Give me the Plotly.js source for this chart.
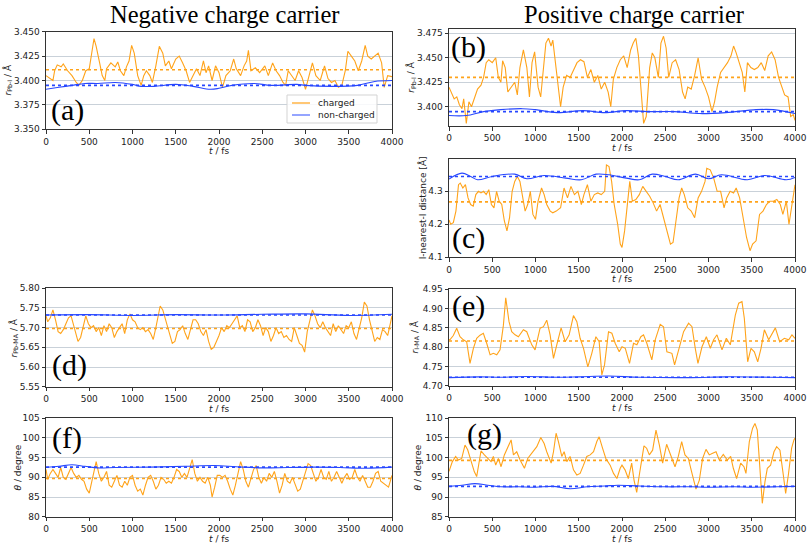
<!DOCTYPE html>
<html><head><meta charset="utf-8">
<script src="https://cdn.plot.ly/plotly-3.0.1.min.js"></script>
<style>html,body{margin:0;padding:0;background:#fff}#chart{width:807px;height:544px}</style>
</head><body><div id="chart"></div>
<script>
// ---------- (a) negative carrier, r(Pb-I) ----------
const tChargedA = [0,50,80,100,130,175,200,250,300,350,380,420,460,500,530,555,580,600,620,650,680,700,750,800,830,860,900,930,960,990,1020,1060,1100,1130,1160,1200,1230,1270,1310,1350,1380,1420,1450,1500,1540,1580,1620,1660,1700,1740,1780,1820,1850,1880,1920,1960,2000,2040,2080,2130,2170,2200,2250,2290,2320,2340,2370,2420,2470,2530,2570,2620,2660,2700,2740,2770,2800,2840,2880,2920,2960,3000,3040,3080,3120,3170,3220,3260,3300,3340,3380,3420,3460,3490,3530,3570,3610,3650,3690,3720,3760,3800,3840,3880,3910,3950,4000];
const chargedA = [3.405,3.402,3.400,3.410,3.416,3.414,3.417,3.410,3.405,3.398,3.395,3.400,3.410,3.412,3.430,3.443,3.435,3.425,3.418,3.405,3.400,3.412,3.418,3.414,3.419,3.410,3.405,3.414,3.420,3.436,3.428,3.405,3.395,3.405,3.410,3.405,3.398,3.415,3.435,3.428,3.415,3.420,3.412,3.422,3.425,3.418,3.410,3.398,3.405,3.412,3.405,3.420,3.408,3.415,3.400,3.415,3.408,3.393,3.405,3.410,3.422,3.412,3.405,3.415,3.420,3.431,3.410,3.413,3.408,3.415,3.405,3.418,3.410,3.405,3.398,3.395,3.410,3.405,3.400,3.410,3.403,3.391,3.405,3.418,3.405,3.400,3.415,3.402,3.398,3.400,3.393,3.395,3.410,3.430,3.425,3.420,3.410,3.420,3.436,3.425,3.422,3.425,3.428,3.418,3.393,3.405,3.404];
const tNonA = [0,150,300,450,600,800,1000,1100,1250,1500,1700,1900,2000,2150,2400,2600,2900,3000,3300,3600,3800,4000];
const nonChargedA = [3.391,3.393,3.395,3.397,3.397,3.398,3.396,3.394,3.394,3.396,3.394,3.391,3.392,3.395,3.397,3.395,3.396,3.395,3.394,3.395,3.399,3.400];
const meansA = [3.411, 3.395];

// ---------- (b) positive carrier, r(Pb-I) ----------
const tChargedB = [0,30,60,90,120,150,170,200,230,260,300,330,370,400,430,460,500,540,570,600,620,650,680,720,760,790,820,860,900,930,960,990,1030,1060,1090,1120,1150,1180,1200,1230,1260,1290,1320,1360,1400,1440,1480,1520,1560,1600,1640,1680,1720,1760,1800,1840,1870,1900,1940,1980,2020,2060,2100,2130,2160,2190,2220,2250,2280,2320,2350,2380,2420,2450,2480,2510,2540,2580,2620,2660,2700,2730,2760,2800,2840,2880,2920,2960,3000,3040,3070,3100,3140,3180,3220,3260,3290,3320,3360,3390,3420,3450,3490,3530,3570,3610,3650,3690,3730,3770,3810,3850,3880,3920,3950,3980,4000];
const chargedB = [3.420,3.413,3.408,3.410,3.402,3.398,3.408,3.383,3.405,3.400,3.410,3.418,3.422,3.430,3.445,3.448,3.445,3.450,3.430,3.425,3.447,3.440,3.415,3.420,3.425,3.412,3.440,3.458,3.440,3.410,3.445,3.456,3.420,3.410,3.440,3.465,3.470,3.462,3.468,3.445,3.420,3.400,3.420,3.432,3.430,3.438,3.445,3.448,3.446,3.430,3.438,3.425,3.432,3.418,3.425,3.415,3.400,3.428,3.440,3.448,3.452,3.440,3.458,3.465,3.470,3.452,3.412,3.383,3.390,3.440,3.455,3.450,3.430,3.465,3.472,3.460,3.430,3.445,3.448,3.438,3.415,3.408,3.420,3.418,3.432,3.450,3.428,3.420,3.410,3.395,3.405,3.420,3.435,3.440,3.445,3.452,3.462,3.455,3.442,3.435,3.415,3.445,3.440,3.438,3.440,3.445,3.437,3.452,3.456,3.448,3.430,3.420,3.412,3.410,3.390,3.392,3.386];
const tNonB = [0,200,400,600,850,1000,1250,1550,1800,2050,2300,2600,2900,3200,3550,3750,4000];
const nonChargedB = [3.391,3.391,3.395,3.397,3.398,3.397,3.394,3.396,3.394,3.396,3.395,3.395,3.393,3.394,3.397,3.397,3.393];
const meansB = [3.430, 3.395];

// ---------- (c) positive carrier, I-nearest-I distance ----------
const tChargedC = [0,20,50,80,110,130,160,190,220,250,280,310,340,370,400,430,460,490,520,550,580,610,640,670,700,730,760,790,820,850,880,910,940,970,1000,1030,1070,1100,1130,1170,1200,1240,1290,1330,1370,1410,1450,1490,1530,1560,1600,1640,1680,1720,1760,1800,1820,1850,1880,1910,1950,1980,2000,2030,2060,2090,2120,2160,2200,2240,2280,2320,2360,2400,2440,2480,2520,2560,2590,2620,2660,2690,2720,2760,2800,2840,2880,2920,2960,2980,3020,3060,3100,3140,3180,3210,3250,3290,3320,3360,3400,3440,3480,3510,3550,3590,3630,3670,3710,3750,3790,3830,3860,3900,3930,3960,4000];
const chargedC = [4.213,4.20,4.205,4.24,4.32,4.325,4.31,4.32,4.28,4.26,4.255,4.29,4.30,4.295,4.30,4.29,4.305,4.26,4.25,4.30,4.27,4.26,4.21,4.18,4.22,4.30,4.33,4.345,4.33,4.28,4.24,4.26,4.30,4.23,4.215,4.27,4.31,4.29,4.26,4.24,4.235,4.24,4.25,4.31,4.28,4.315,4.29,4.30,4.26,4.29,4.32,4.27,4.29,4.295,4.29,4.30,4.38,4.375,4.33,4.26,4.20,4.14,4.13,4.18,4.26,4.33,4.27,4.275,4.29,4.315,4.30,4.285,4.265,4.24,4.26,4.22,4.18,4.14,4.145,4.20,4.28,4.31,4.29,4.25,4.24,4.22,4.28,4.30,4.33,4.37,4.365,4.34,4.30,4.30,4.25,4.28,4.30,4.295,4.31,4.28,4.22,4.16,4.12,4.14,4.15,4.23,4.24,4.26,4.27,4.27,4.275,4.26,4.23,4.27,4.20,4.25,4.32];
const tNonC = [0,150,250,330,500,760,900,1100,1350,1530,1700,1850,2050,2200,2350,2500,2650,2850,3000,3150,3450,3650,3900,4000];
const nonChargedC = [4.337,4.355,4.345,4.335,4.345,4.352,4.338,4.348,4.340,4.335,4.352,4.350,4.340,4.335,4.352,4.345,4.335,4.352,4.338,4.350,4.335,4.348,4.335,4.342];
const meansC = [4.268, 4.345];

// ---------- (d) negative carrier, r(Pb-MA) ----------
const tChargedD = [0,20,50,80,110,140,170,200,230,260,290,320,350,370,400,430,460,490,520,550,580,610,640,670,700,730,760,790,820,850,880,910,940,970,1000,1030,1060,1090,1120,1150,1180,1210,1240,1270,1300,1320,1350,1380,1410,1440,1460,1490,1520,1550,1580,1610,1640,1670,1700,1730,1760,1790,1820,1850,1880,1910,1940,1970,2000,2030,2060,2090,2120,2150,2180,2210,2240,2270,2300,2330,2360,2390,2420,2450,2480,2510,2540,2570,2600,2630,2660,2690,2720,2750,2780,2810,2840,2870,2900,2930,2960,2990,3020,3050,3080,3110,3140,3170,3200,3230,3260,3290,3320,3350,3380,3410,3440,3470,3500,3530,3560,3590,3620,3650,3680,3710,3740,3770,3800,3830,3860,3890,3920,3950,3980,4000];
const chargedD = [5.73,5.715,5.725,5.745,5.72,5.69,5.685,5.695,5.71,5.725,5.73,5.705,5.68,5.665,5.675,5.70,5.73,5.71,5.70,5.705,5.69,5.70,5.68,5.705,5.69,5.71,5.70,5.675,5.69,5.70,5.71,5.685,5.72,5.735,5.72,5.715,5.70,5.695,5.70,5.69,5.695,5.685,5.67,5.70,5.74,5.755,5.745,5.72,5.695,5.675,5.66,5.665,5.69,5.695,5.705,5.685,5.67,5.695,5.72,5.72,5.71,5.69,5.68,5.695,5.665,5.645,5.65,5.665,5.68,5.70,5.69,5.705,5.70,5.71,5.72,5.73,5.70,5.705,5.69,5.72,5.715,5.69,5.70,5.72,5.705,5.68,5.70,5.69,5.665,5.68,5.70,5.685,5.69,5.675,5.68,5.67,5.665,5.70,5.68,5.66,5.655,5.638,5.69,5.72,5.745,5.73,5.71,5.70,5.715,5.70,5.69,5.68,5.71,5.69,5.705,5.695,5.685,5.705,5.70,5.715,5.685,5.67,5.70,5.725,5.765,5.755,5.72,5.695,5.665,5.675,5.67,5.695,5.69,5.68,5.71,5.73];
const tNonD = [0,500,1000,1500,2000,2500,3000,3500,4000];
const nonChargedD = [5.732,5.733,5.731,5.733,5.732,5.734,5.735,5.731,5.734];
const meansD = [5.698, 5.732];

// ---------- (e) positive carrier, r(I-MA) ----------
const tChargedE = [0,10,50,89,127,166,204,243,282,320,359,397,436,475,513,552,590,629,656,694,725,764,802,860,899,957,995,1053,1092,1130,1169,1208,1246,1296,1343,1389,1439,1478,1516,1555,1605,1651,1698,1736,1767,1798,1844,1883,1921,1968,2000,2038,2087,2133,2172,2218,2249,2287,2345,2384,2442,2480,2519,2577,2608,2654,2712,2770,2809,2847,2878,2925,2975,3021,3059,3098,3156,3206,3252,3310,3349,3387,3414,3453,3491,3530,3569,3607,3646,3696,3734,3773,3823,3877,3927,3965,4000];
const chargedE = [4.82,4.819,4.83,4.849,4.827,4.819,4.814,4.758,4.797,4.823,4.831,4.836,4.81,4.78,4.784,4.78,4.793,4.857,4.928,4.866,4.84,4.832,4.827,4.845,4.84,4.806,4.793,4.849,4.853,4.87,4.832,4.771,4.806,4.85,4.814,4.832,4.882,4.866,4.823,4.797,4.749,4.784,4.827,4.814,4.728,4.754,4.84,4.836,4.81,4.788,4.801,4.797,4.758,4.81,4.806,4.827,4.832,4.81,4.767,4.819,4.859,4.853,4.788,4.784,4.754,4.793,4.84,4.862,4.853,4.797,4.758,4.801,4.827,4.797,4.819,4.832,4.793,4.823,4.806,4.883,4.914,4.918,4.875,4.762,4.797,4.788,4.762,4.797,4.845,4.819,4.836,4.85,4.814,4.823,4.819,4.832,4.823];
const tNonE = [0,350,600,900,1250,1500,1850,2200,2800,3200,3700,4000];
const nonChargedE = [4.721,4.723,4.722,4.724,4.722,4.723,4.725,4.722,4.721,4.723,4.722,4.721];
const meansE = [4.816, 4.722];

// ---------- (f) negative carrier, angle ----------
const tChargedF = [0,20,50,80,110,140,170,200,230,260,290,320,350,380,410,440,470,500,530,560,580,610,640,670,700,730,760,790,820,850,880,910,940,970,1000,1030,1060,1090,1120,1150,1180,1210,1240,1270,1300,1330,1360,1390,1420,1450,1480,1510,1540,1570,1600,1630,1660,1690,1720,1750,1780,1810,1840,1870,1900,1920,1950,1980,2010,2040,2070,2100,2130,2160,2190,2220,2250,2280,2310,2340,2370,2400,2430,2460,2490,2520,2550,2580,2610,2640,2670,2700,2730,2760,2790,2820,2850,2880,2910,2940,2970,3000,3030,3060,3090,3120,3150,3180,3210,3240,3270,3300,3330,3360,3390,3420,3450,3480,3510,3540,3570,3600,3630,3660,3690,3720,3750,3780,3810,3840,3870,3900,3930,3960,4000];
const chargedF = [92,89.5,91,92,91,90,92.5,90,89.5,91,92.5,91,90,90.5,89.5,89,87,86,89,92,94,91,89,90,91.5,88,87.5,89,90.5,88,87.5,89,88,90,90.5,88,86.5,87,85.5,88,90,90.5,89,87,88,90,89.5,88.5,89,88.5,90,92,91.5,90,91,90,92,94.5,91,89,90,89,88.5,90,88,85,87.5,90.5,90.5,90,90.5,89,87,85.5,88,91,94,92,89,87.5,90,92,93,90,88.5,90,89,91,90,91.5,89,86,88,91,89,88.5,90,88,86.5,87,89,91,93.5,93,91,89,90,92,90,89.5,91.5,89,90,91.5,90,88.5,90,91,89.5,90,92,90,89,90.5,89,87.5,87.5,89,91,91.5,89,88.5,88,87.5,90.5];
const tNonF = [0,150,300,450,600,800,1200,1600,1950,2200,2500,2800,3100,3400,3700,4000];
const nonChargedF = [92.5,92.8,93.2,92.8,92.4,92.5,92.6,92.8,93.0,92.7,92.4,92.5,92.6,92.5,92.3,92.6];
const meansF = [89.7, 92.6];

// ---------- (g) positive carrier, angle ----------
const tChargedG = [0,12,39,77,108,147,185,216,255,293,320,347,370,409,448,486,513,540,571,602,640,679,718,745,783,822,872,910,957,1015,1061,1100,1130,1181,1208,1238,1265,1304,1331,1362,1400,1439,1478,1516,1555,1593,1632,1671,1709,1736,1775,1813,1863,1902,1941,1979,2000,2035,2073,2112,2139,2170,2200,2227,2254,2285,2316,2354,2393,2432,2470,2516,2555,2613,2651,2690,2728,2767,2805,2855,2894,2932,2971,3009,3048,3087,3125,3171,3218,3256,3287,3325,3372,3410,3433,3472,3510,3537,3564,3595,3622,3653,3680,3718,3757,3788,3826,3865,3892,3923,3961,3988,4000];
const chargedG = [96.5,97.3,99,100.3,99.4,99.8,103.2,102,99,96.4,95.2,99,101.7,100.7,99.8,99,100.3,98.1,99.8,97.7,100.7,102.4,104.5,100.7,101.5,99.4,97.3,99.8,101.1,102.8,105.1,103.6,101.5,98.6,101.5,106.2,104.1,100.3,101.5,99,100.3,96.9,95.6,96,98.1,100.3,100.7,101.5,104.1,105.3,102.4,99.8,98.1,96,94.7,97.3,98.1,96.9,94.7,98.6,94.3,91.2,95.6,99,103,102.4,100.7,101.9,107,103.2,98.6,103.4,101.1,97.7,100.3,104.1,100.7,99.8,96.4,92,94.3,99.8,102.1,100.7,101.1,101.5,99.4,100.8,99.4,100.3,97.3,94.7,98.6,97.7,96,104.1,107.5,108.7,107,98.1,88.4,93.9,97.3,98.1,101.5,102.8,101.9,95.6,90.9,95.6,102.4,104.5,105];
const tNonG = [0,150,300,450,600,800,1000,1200,1400,1600,1800,1950,2200,2500,2800,3000,3300,3500,3800,4000];
const nonChargedG = [92.7,93.0,93.4,93.0,92.6,92.6,92.5,92.7,92.1,92.6,92.8,93.0,92.8,92.6,92.6,92.5,92.6,92.5,92.6,92.7];
const meansG = [99.3, 92.7];

// ---------- texts ----------
const columnTitles = ['Negative charge carrier', 'Positive charge carrier'];
const panelLabels = ['(a)','(b)','(c)','(d)','(e)','(f)','(g)'];
const yTitles = ['<i>r</i><sub>Pb-I</sub> / Å','<i>r</i><sub>Pb-I</sub> / Å','I-nearest-I distance [Å]','<i>r</i><sub>Pb-MA</sub> / Å','<i>r</i><sub>I-MA</sub> / Å','<i>θ</i> / degree','<i>θ</i> / degree'];
const xTitle = '<i>t</i> / fs';
const seriesNames = ['charged','non-charged'];

// ---------- layout geometry (pixels) ----------
const W = 807, H = 544;
const colX = [[46,392],[449,795]];
const panelsGeom = [
  {col:0, top:31.7, bot:129.3, range:[3.35,3.45], dtick:0.025, fmt:'.3f', lab:[67,110], yt:8},
  {col:1, top:29.3, bot:126.0, range:[3.3803,3.4791], dtick:0.025, fmt:'.3f', lab:[468,47], yt:411},
  {col:1, top:159.3, bot:257.3, range:[4.1,4.397], dtick:0.1, fmt:'.1f', lab:[468,238], yt:422},
  {col:0, top:288.3, bot:386.7, range:[5.55,5.80], dtick:0.05, fmt:'.2f', lab:[69,365], yt:13},
  {col:1, top:289.3, bot:385.7, range:[4.70,4.95], dtick:0.05, fmt:'.2f', lab:[468,306], yt:414},
  {col:0, top:418.3, bot:516.7, range:[80,105], dtick:5, fmt:'d', lab:[67,438], yt:17},
  {col:1, top:418.3, bot:516.7, range:[85,110], dtick:5, fmt:'d', lab:[484,434], yt:417}
];
const data = [
  [tChargedA, chargedA, tNonA, nonChargedA, meansA],
  [tChargedB, chargedB, tNonB, nonChargedB, meansB],
  [tChargedC, chargedC, tNonC, nonChargedC, meansC],
  [tChargedD, chargedD, tNonD, nonChargedD, meansD],
  [tChargedE, chargedE, tNonE, nonChargedE, meansE],
  [tChargedF, chargedF, tNonF, nonChargedF, meansF],
  [tChargedG, chargedG, tNonG, nonChargedG, meansG]
];

const ORANGE = '#ffa31a', BLUE = '#2747ff';
const tickFont = {family:'DejaVu Sans, sans-serif', size:9, color:'#222'};
const traces = [];
const layout = {
  width: W, height: H, margin:{l:0,r:0,t:0,b:0},
  paper_bgcolor:'#fff', plot_bgcolor:'#fff',
  showlegend:false,
  annotations:[], shapes:[]
};

panelsGeom.forEach((g, i) => {
  const k = i + 1;
  const xa = k === 1 ? 'x' : 'x' + k, ya = k === 1 ? 'y' : 'y' + k;
  const [tc, vc, tn, vn, means] = data[i];
  const tSpan = [tc[0], tc[tc.length - 1]];
  traces.push({x:tc, y:vc, xaxis:xa, yaxis:ya, type:'scatter', mode:'lines', name:seriesNames[0],
    line:{color:ORANGE, width:1.1}, hoverinfo:'skip'});
  traces.push({x:tn, y:vn, xaxis:xa, yaxis:ya, type:'scatter', mode:'lines', name:seriesNames[1],
    line:{color:BLUE, width:1.1, shape:'spline', smoothing:1}, hoverinfo:'skip'});
  traces.push({x:tSpan, y:[means[0], means[0]], xaxis:xa, yaxis:ya, type:'scatter', mode:'lines',
    name:seriesNames[0] + ' mean', line:{color:ORANGE, width:1.6, dash:'dot'}, hoverinfo:'skip'});
  traces.push({x:tSpan, y:[means[1], means[1]], xaxis:xa, yaxis:ya, type:'scatter', mode:'lines',
    name:seriesNames[1] + ' mean', line:{color:BLUE, width:1.6, dash:'dot'}, hoverinfo:'skip'});

  const xr = colX[g.col];
  layout['xaxis' + (k === 1 ? '' : k)] = {
    domain:[xr[0]/W, xr[1]/W], anchor:ya, range:[0,4000], dtick:500, tick0:0,
    ticks:'outside', ticklen:3.5, tickwidth:1, tickcolor:'#333',
    showline:true, mirror:true, linecolor:'#333', linewidth:1,
    showgrid:false, zeroline:false, tickfont:tickFont, automargin:false
  };
  layout['yaxis' + (k === 1 ? '' : k)] = {
    domain:[1 - g.bot/H, 1 - g.top/H], anchor:xa, range:g.range, dtick:g.dtick, tick0:0,
    tickformat:g.fmt, ticks:'outside', ticklen:3.5, tickwidth:1, tickcolor:'#333',
    showline:true, mirror:true, linecolor:'#333', linewidth:1,
    showgrid:true, gridcolor:'#c9d1d9', gridwidth:1, zeroline:false, tickfont:tickFont, automargin:false
  };
  layout.annotations.push({text:panelLabels[i], xref:'paper', yref:'paper', x:g.lab[0]/W, y:1-g.lab[1]/H,
    xanchor:'center', yanchor:'middle', showarrow:false,
    font:{family:'Liberation Serif, Times New Roman, serif', size:30, color:'#000'}});
  layout.annotations.push({text:yTitles[i], xref:'paper', yref:'paper', x:g.yt/W, y:1-(g.top+g.bot)/2/H,
    xanchor:'center', yanchor:'middle', textangle:-90, showarrow:false,
    font:{family:'DejaVu Sans, sans-serif', size:9, color:'#222'}});
  layout.annotations.push({text:xTitle, xref:'paper', yref:'paper', x:(xr[0]+xr[1])/2/W, y:1-(g.bot+22)/H,
    xanchor:'center', yanchor:'middle', showarrow:false,
    font:{family:'DejaVu Sans, sans-serif', size:9, color:'#222'}});
});

// legend box drawn in panel (a) (matplotlib-style compact legend)
const lg = {x0:287, x1:377, y0:95, y1:123, rows:[103,115], lineX:[292,310], textX:316};
layout.shapes.push({type:'rect', xref:'paper', yref:'paper', x0:lg.x0/W, x1:lg.x1/W, y0:1-lg.y1/H, y1:1-lg.y0/H,
  fillcolor:'rgba(255,255,255,0.85)', line:{color:'#d3d3d3', width:1}, layer:'above'});
[ 'rgba(255,163,26,0.8)', 'rgba(39,71,255,0.65)' ].forEach((c, j) => {
  layout.shapes.push({type:'line', xref:'paper', yref:'paper', x0:lg.lineX[0]/W, x1:lg.lineX[1]/W,
    y0:1-lg.rows[j]/H, y1:1-lg.rows[j]/H, line:{color:c, width:1.5}, layer:'above'});
  layout.annotations.push({text:seriesNames[j], xref:'paper', yref:'paper', x:lg.textX/W, y:1-lg.rows[j]/H,
    xanchor:'left', yanchor:'middle', showarrow:false,
    font:{family:'DejaVu Sans, sans-serif', size:9, color:'#222'}});
});

// column titles
[[224,14],[634,14]].forEach((p, j) => {
  layout.annotations.push({text:columnTitles[j], xref:'paper', yref:'paper', x:p[0]/W, y:1-p[1]/H,
    xanchor:'center', yanchor:'middle', showarrow:false,
    font:{family:'Liberation Serif, Times New Roman, serif', size:24.5, color:'#000'}});
});

Plotly.newPlot('chart', traces, layout, {staticPlot:true, displayModeBar:false});
</script>
</body></html>
